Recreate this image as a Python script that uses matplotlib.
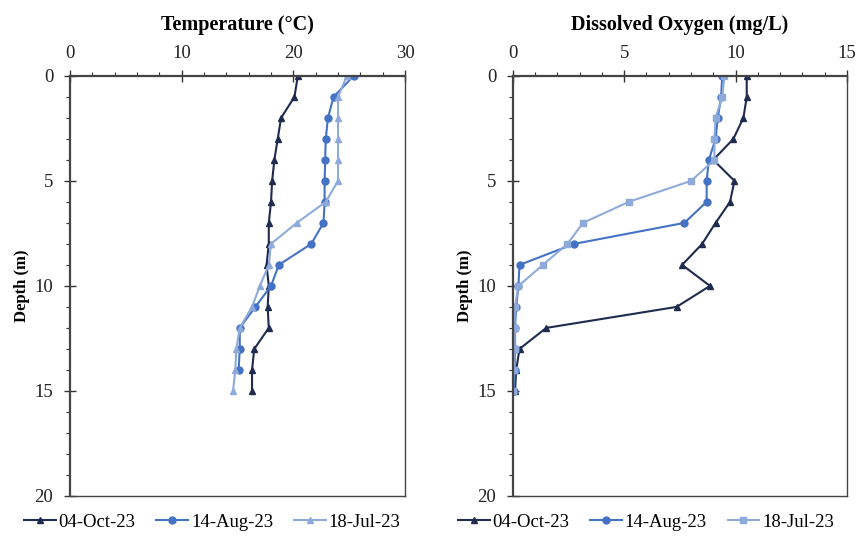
import matplotlib.pyplot as plt
from matplotlib.ticker import MultipleLocator

plt.rcParams['font.family'] = ['Liberation Serif', 'DejaVu Serif']

depth = [0, 1, 2, 3, 4, 5, 6, 7, 8, 9, 10, 11, 12, 13, 14, 15]
depth_aug_t = depth[:15]

# temperature (deg C)
temp_oct = [20.4, 20.1, 18.9, 18.6, 18.3, 18.1, 18.0, 17.8, 17.8, 17.6, 17.8, 17.7, 17.8, 16.5, 16.3, 16.3]
temp_aug = [25.4, 23.6, 23.1, 22.9, 22.85, 22.8, 22.8, 22.7, 21.6, 18.7, 18.0, 16.6, 15.2, 15.2, 15.1]
temp_jul = [24.8, 24.0, 24.0, 24.0, 24.0, 24.0, 22.9, 20.3, 18.0, 17.8, 17.0, 16.3, 15.2, 14.9, 14.8, 14.6]

# dissolved oxygen (mg/L)
do_oct = [10.5, 10.5, 10.35, 9.9, 9.0, 9.95, 9.75, 9.1, 8.5, 7.6, 8.85, 7.35, 1.5, 0.3, 0.15, 0.1]
do_aug = [9.4, 9.35, 9.2, 9.1, 8.8, 8.7, 8.7, 7.7, 2.75, 0.3, 0.25, 0.15, 0.1, 0.1, 0.08, 0.05]
do_jul = [9.5, 9.4, 9.1, 9.05, 9.05, 8.0, 5.2, 3.15, 2.45, 1.35, 0.25, 0.1, 0.08, 0.08, 0.05, 0.0]

labels = ["04-Oct-23", "14-Aug-23", "18-Jul-23"]
c_dark = "#1f2b4f"
c_mid = "#4472c4"
c_light = "#8eaadb"

fig = plt.figure(figsize=(8.59, 5.42), dpi=100)
ax1 = fig.add_axes([0.0815, 0.085, 0.390, 0.775])
ax2 = fig.add_axes([0.597, 0.085, 0.389, 0.775])

lw = 1.5
ms = 5
ax1.plot(temp_oct, depth, c=c_dark, lw=lw, marker="^", ms=ms, label=labels[0])
ax1.plot(temp_aug, depth_aug_t, c=c_mid, lw=lw, marker="o", ms=ms, label=labels[1])
ax1.plot(temp_jul, depth, c=c_light, lw=lw, marker="^", ms=ms, label=labels[2])

ax2.plot(do_oct, depth, c=c_dark, lw=lw, marker="^", ms=ms, label=labels[0])
ax2.plot(do_aug, depth, c=c_mid, lw=lw, marker="o", ms=ms, label=labels[1])
ax2.plot(do_jul, depth, c=c_light, lw=lw, marker="s", ms=ms, label=labels[2])

for ax, xmax, xmaj, xmin, title in [(ax1, 30, 10, 2, "Temperature (°C)"),
                                     (ax2, 15, 5, 1, "Dissolved Oxygen (mg/L)")]:
    ax.set_xlim(0, xmax)
    ax.set_ylim(20, 0)
    ax.xaxis.tick_top()
    ax.xaxis.set_major_locator(MultipleLocator(xmaj))
    ax.xaxis.set_minor_locator(MultipleLocator(xmin))
    ax.yaxis.set_major_locator(MultipleLocator(5))
    ax.yaxis.set_minor_locator(MultipleLocator(1))
    ax.tick_params(which="major", direction="inout", length=8, width=1, labelsize=13.5,
                   color="#333333", labelcolor="#222222")
    ax.tick_params(which="minor", direction="out", length=3, width=0.8, color="#333333")
    ax.tick_params(axis="x", which="major", pad=6)
    ax.tick_params(axis="y", which="major", pad=8)
    ax.tick_params(axis="x", which="both", bottom=False, top=True)
    ax.tick_params(axis="y", which="both", right=False, left=True)
    for s in ax.spines.values():
        s.set_color("#444444")
        s.set_linewidth(1)
    ax.spines["top"].set_linewidth(1.6)
    ax.spines["left"].set_linewidth(1.6)
    ax.set_ylabel("Depth (m)", fontsize=12, fontweight="bold", labelpad=3)
    ax.set_title(title, fontsize=14.5, fontweight="bold", pad=33)

leg_kw = dict(loc="center", bbox_transform=fig.transFigure, ncol=3, frameon=False,
              fontsize=13.5, handlelength=1.7, columnspacing=1.1, handletextpad=0.15)
ax1.legend(bbox_to_anchor=(0.247, 0.036), **leg_kw)
ax2.legend(bbox_to_anchor=(0.752, 0.036), **leg_kw)

fig.savefig("out.png", dpi=100)
